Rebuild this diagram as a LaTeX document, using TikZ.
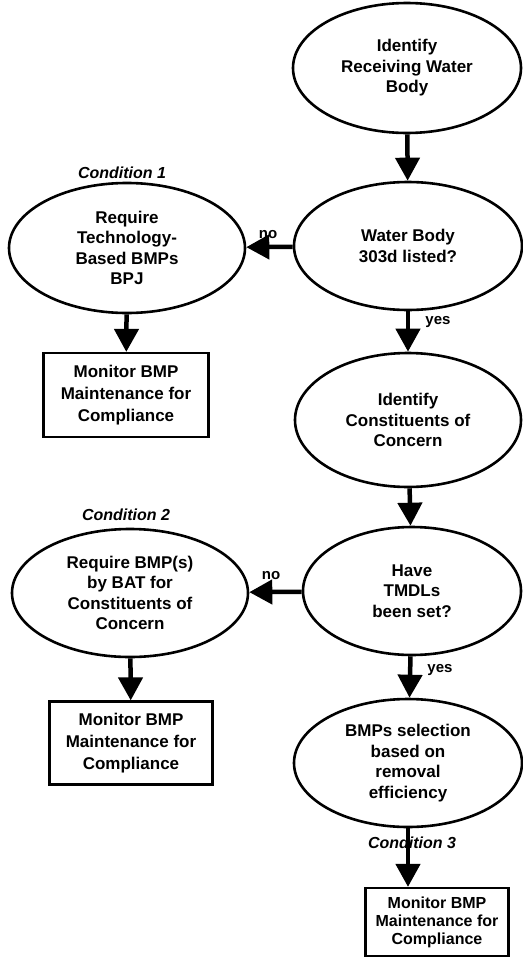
\documentclass[tikz,border=0pt]{standalone}
\usepackage{fontspec}
\setmainfont{Liberation Sans}
\usetikzlibrary{arrows.meta}
\usetikzlibrary{shapes.geometric}

\tikzset{
  stage/.style={ellipse, draw, line width=2.6pt, inner sep=0pt, align=center,
    font=\bfseries\fontsize{17}{20.5}\selectfont},
  monbox/.style={rectangle, draw, line width=2.2pt, inner sep=0pt, align=center,
    font=\bfseries\fontsize{17}{22}\selectfont},
  flow/.style={line width=4.5pt, -{Triangle[length=23pt,width=24pt]}},
  cond/.style={font=\bfseries\itshape\fontsize{16}{18}\selectfont},
  answer/.style={font=\bfseries\fontsize{15}{17}\selectfont}
}

\begin{document}
\begin{tikzpicture}[x=1pt,y=-1pt]
\useasboundingbox (0,0) rectangle (522,969);
\node[stage, minimum width=228pt, minimum height=130pt] (recv) at (407,68) {Identify\\Receiving Water\\Body};
\node[stage, minimum width=228pt, minimum height=128pt] (listed) at (408,246) {Water Body\\303d listed?};
\node[stage, minimum width=236pt, minimum height=130pt] (tech) at (127,248) {Require\\Technology-\\Based BMPs\\BPJ};
\node[monbox, minimum width=165pt, minimum height=84pt] (mon1) at (126,395) {Monitor BMP\\Maintenance for\\Compliance};
\node[stage, minimum width=226pt, minimum height=134pt] (const) at (408,420) {Identify\\Constituents of\\Concern};
\node[stage, minimum width=218pt, minimum height=128pt] (tmdl) at (412,591) {Have\\TMDLs\\been set?};
\node[stage, minimum width=236pt, minimum height=128pt] (bat) at (130,593) {Require BMP(s)\\by BAT for\\Constituents of\\Concern};
\node[monbox, minimum width=163pt, minimum height=83pt] (mon2) at (131,743) {Monitor BMP\\Maintenance for\\Compliance};
\node[stage, minimum width=228pt, minimum height=128pt] (sel) at (408,763) {BMPs selection\\based on\\removal\\efficiency};
\node[monbox, minimum width=143pt, minimum height=68pt, font=\bfseries\fontsize{16}{18}\selectfont] (mon3) at (437,922) {Monitor BMP\\Maintenance for\\Compliance};
\node[cond] (c1) at (122,173) {Condition 1};
\node[cond] (c2) at (126,515) {Condition 2};
\draw[flow] (recv) -- (listed);
\draw[flow] (listed) -- (tech);
\draw[flow] (tech) -- (mon1);
\draw[flow] (listed) -- (const);
\draw[flow] (const) -- (tmdl);
\draw[flow] (tmdl) -- (bat);
\draw[flow] (bat) -- (mon2);
\draw[flow] (tmdl) -- (sel);
\draw[flow] (sel.south) -- (sel.south |- mon3.north);
\node[answer] (no1) at (268,235) {no};
\node[answer] (no2) at (271,576) {no};
\node[answer] (yes1) at (438,322) {yes};
\node[answer] (yes2) at (440,670) {yes};
\node[cond] (c3) at (412,843) {Condition 3};
\end{tikzpicture}
\end{document}
